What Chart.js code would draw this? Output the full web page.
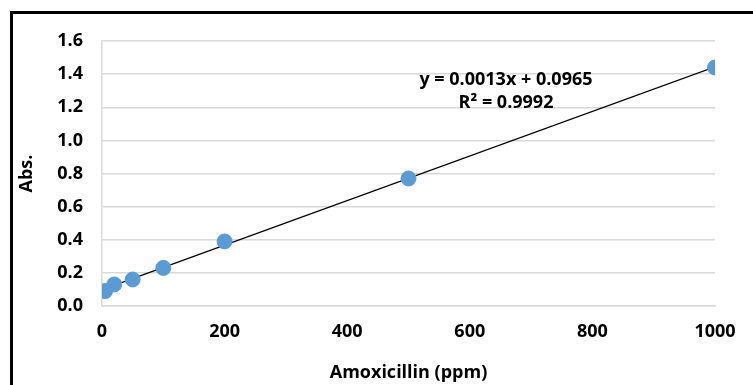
<!DOCTYPE html>
<html>
<head>
<meta charset="utf-8">
<script src="https://cdn.jsdelivr.net/npm/chart.js@4/dist/chart.umd.min.js"></script>
<style>
  html, body { margin: 0; padding: 0; background: #fff; }
  #wrap { position: relative; width: 753px; height: 385px; overflow: hidden; }
  #frame { position: absolute; left: 10px; top: 11px; right: -10px; bottom: -10px;
           border-left: 3px solid #000; border-top: 3px solid #000; }
  canvas { position: absolute; left: 0; top: 0; }
</style>
</head>
<body>
<div id="wrap">
  <div id="frame"></div>
  <canvas id="chart" width="753" height="385"></canvas>
</div>
<script>
const concentrations = [5, 20, 50, 100, 200, 500, 1000];
const absorbance = [0.09, 0.13, 0.16, 0.23, 0.39, 0.77, 1.44];
const equationText = "y = 0.0013x + 0.0965";
const r2Text = "R\u00b2 = 0.9992";

// least squares fit for the trendline
const n = concentrations.length;
const mx = concentrations.reduce((a, b) => a + b, 0) / n;
const my = absorbance.reduce((a, b) => a + b, 0) / n;
let sxy = 0, sxx = 0;
for (let i = 0; i < n; i++) {
    sxy += (concentrations[i] - mx) * (absorbance[i] - my);
    sxx += (concentrations[i] - mx) * (concentrations[i] - mx);
}
const slope = sxy / sxx;
const intercept = my - slope * mx;
const xMin = Math.min(...concentrations), xMax = Math.max(...concentrations);
const trend = [
    { x: xMin, y: slope * xMin + intercept },
    { x: xMax, y: slope * xMax + intercept }
];

const font = { family: "'Open Sans'", weight: "bold", size: 18 };

const equationLabel = {
    id: 'equationLabel',
    afterDatasetsDraw(chart) {
        const c = chart.ctx, a = chart.chartArea;
        c.save();
        c.fillStyle = '#000';
        c.font = "bold 18px 'Open Sans'";
        c.textAlign = 'center';
        c.textBaseline = 'middle';
        const cx = a.left + (a.right - a.left) * 0.659;
        c.fillText(equationText, cx, a.top + 39);
        c.fillText(r2Text, cx, a.top + 62);
        c.restore();
    }
};

const ctx = document.getElementById('chart').getContext('2d');
new Chart(ctx, {
    type: 'scatter',
    data: {
        datasets: [
            {
                label: 'Trendline',
                type: 'line',
                data: trend,
                borderColor: '#000',
                borderWidth: 1.2,
                pointRadius: 0,
                fill: false,
                order: 2
            },
            {
                label: 'Abs.',
                data: concentrations.map((x, i) => ({ x: x, y: absorbance[i] })),
                backgroundColor: '#5b9bd5',
                borderColor: '#5b9bd5',
                pointRadius: 7.5,
                order: 1
            }
        ]
    },
    options: {
        responsive: false,
        animation: false,
        layout: { padding: { left: 14, top: 41, right: 38, bottom: 0 } },
        plugins: { legend: { display: false }, tooltip: { enabled: false } },
        scales: {
            x: {
                type: 'linear',
                min: 0, max: 1000,
                ticks: { stepSize: 200, color: '#000', font: font, padding: 15,
                         callback: v => String(v) },
                grid: { display: false, drawTicks: false },
                border: { color: '#d9d9d9', width: 1.5 },
                title: { display: true, text: 'Amoxicillin (ppm)', color: '#000', font: font, padding: { top: 0, bottom: 1 } },
                afterFit(scale) { scale.height = 79; }
            },
            y: {
                min: 0, max: 1.6,
                ticks: { stepSize: 0.2, color: '#000', font: font, padding: 19,
                         callback: v => v.toFixed(1) },
                grid: { color: '#d9d9d9', lineWidth: 1.5, drawTicks: false },
                border: { color: '#d9d9d9', width: 1.5 },
                title: { display: true, text: 'Abs.', color: '#000', font: font, padding: { top: 2, bottom: 0 } },
                afterFit(scale) { scale.width = 88; }
            }
        }
    },
    plugins: [equationLabel]
});
</script>
</body>
</html>
